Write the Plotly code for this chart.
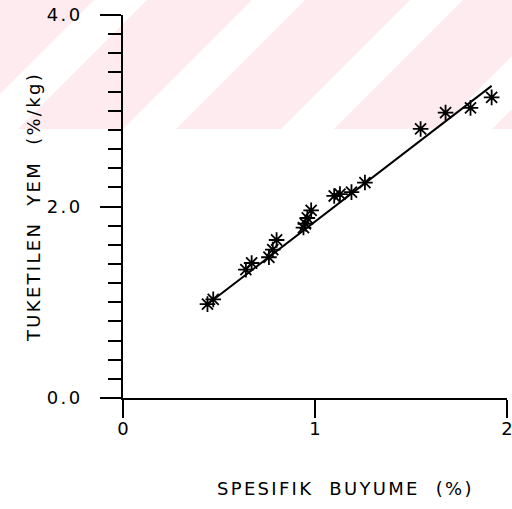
import plotly.graph_objects as go

# Specific growth (%) vs. feed consumed (%/kg), one point per observation
growth = [0.44, 0.47, 0.64, 0.67, 0.76, 0.78, 0.80, 0.94, 0.95, 0.96, 0.98,
          1.10, 1.13, 1.19, 1.26, 1.55, 1.68, 1.81, 1.92]
feed = [0.98, 1.03, 1.34, 1.41, 1.47, 1.55, 1.65, 1.78, 1.82, 1.88, 1.96,
        2.11, 2.13, 2.15, 2.25, 2.81, 2.98, 3.03, 3.14]

# Fitted regression line end points
fit_x = [0.46, 1.92]
fit_y = [1.01, 3.26]

x_ticks = [0, 1, 2]
x_tick_text = ["0", "1", "2"]
y_ticks = [0, 2, 4]
y_tick_text = ["0.0", "2.0", "4.0"]

x_title = "SPESIFIK\u00a0\u00a0BUYUME\u00a0\u00a0(%)"
y_title = "TUKETILEN\u00a0\u00a0YEM\u00a0\u00a0(%/kg)"

W, H = 512, 509
ML, MR, MT, MB = 123, 5, 15, 111
FONT = "DejaVu Sans"
SPACED = '<span style="letter-spacing:2.3px">{}</span>'

fig = go.Figure()
fig.add_trace(go.Scatter(
    x=fit_x, y=fit_y, mode="lines",
    line=dict(color="black", width=2), hoverinfo="skip", showlegend=False,
))
fig.add_trace(go.Scatter(
    x=growth, y=feed, mode="markers",
    marker=dict(symbol="asterisk-open", size=13, color="black",
                line=dict(color="black", width=1.8)),
    showlegend=False,
))


# Light pink diagonal banding across the top of the page
def to_paper(px, py):
    return (px - ML) / (W - ML - MR), (H - MB - py) / (H - MT - MB)


band_bottom = 129
period = 158
shapes = []
for k in range(-3, 4):
    xb0 = 176 + period * k
    xb1 = 123 + period * (k + 1)
    top = -6
    rise = band_bottom - top
    corners = [(xb0, band_bottom), (xb1, band_bottom),
               (xb1 + rise, top), (xb0 + rise, top)]
    pts = [to_paper(px, py) for px, py in corners]
    path = "M " + " L ".join(f"{x:.5f},{y:.5f}" for x, y in pts) + " Z"
    shapes.append(dict(type="path", path=path, xref="paper", yref="paper",
                       fillcolor="#fdebef", line=dict(width=0), layer="below"))

axis_common = dict(
    showline=True, linecolor="black", linewidth=2,
    ticks="outside", tickcolor="black", tickwidth=2,
    showgrid=False, zeroline=False, automargin=False,
    tickfont=dict(family=FONT, size=18, color="black"),
    ticklabeloverflow="allow",
)

# x-axis caption sits right of the plot centre
xt_x, xt_y = to_paper(345, 488)

fig.update_layout(
    width=W, height=H,
    margin=dict(l=ML, r=MR, t=MT, b=MB, autoexpand=False),
    paper_bgcolor="white", plot_bgcolor="rgba(0,0,0,0)",
    shapes=shapes,
    xaxis=dict(
        range=[0, 2], tickvals=x_ticks, ticktext=x_tick_text, ticklen=18,
        ticklabelstandoff=-5,
        **axis_common,
    ),
    yaxis=dict(
        range=[0, 4], tickvals=y_ticks,
        ticktext=[SPACED.format(t) for t in y_tick_text], ticklen=21,
        ticklabelstandoff=14,
        minor=dict(dtick=0.2, ticklen=13, ticks="outside",
                   tickcolor="black", tickwidth=2),
        title=dict(text=SPACED.format(y_title), standoff=2,
                   font=dict(family=FONT, size=18, color="black")),
        **axis_common,
    ),
    annotations=[dict(
        text=SPACED.format(x_title), xref="paper", yref="paper",
        x=xt_x, y=xt_y, xanchor="center", yanchor="middle", showarrow=False,
        font=dict(family=FONT, size=18, color="black"),
    )],
)

fig.write_html("out.html")
